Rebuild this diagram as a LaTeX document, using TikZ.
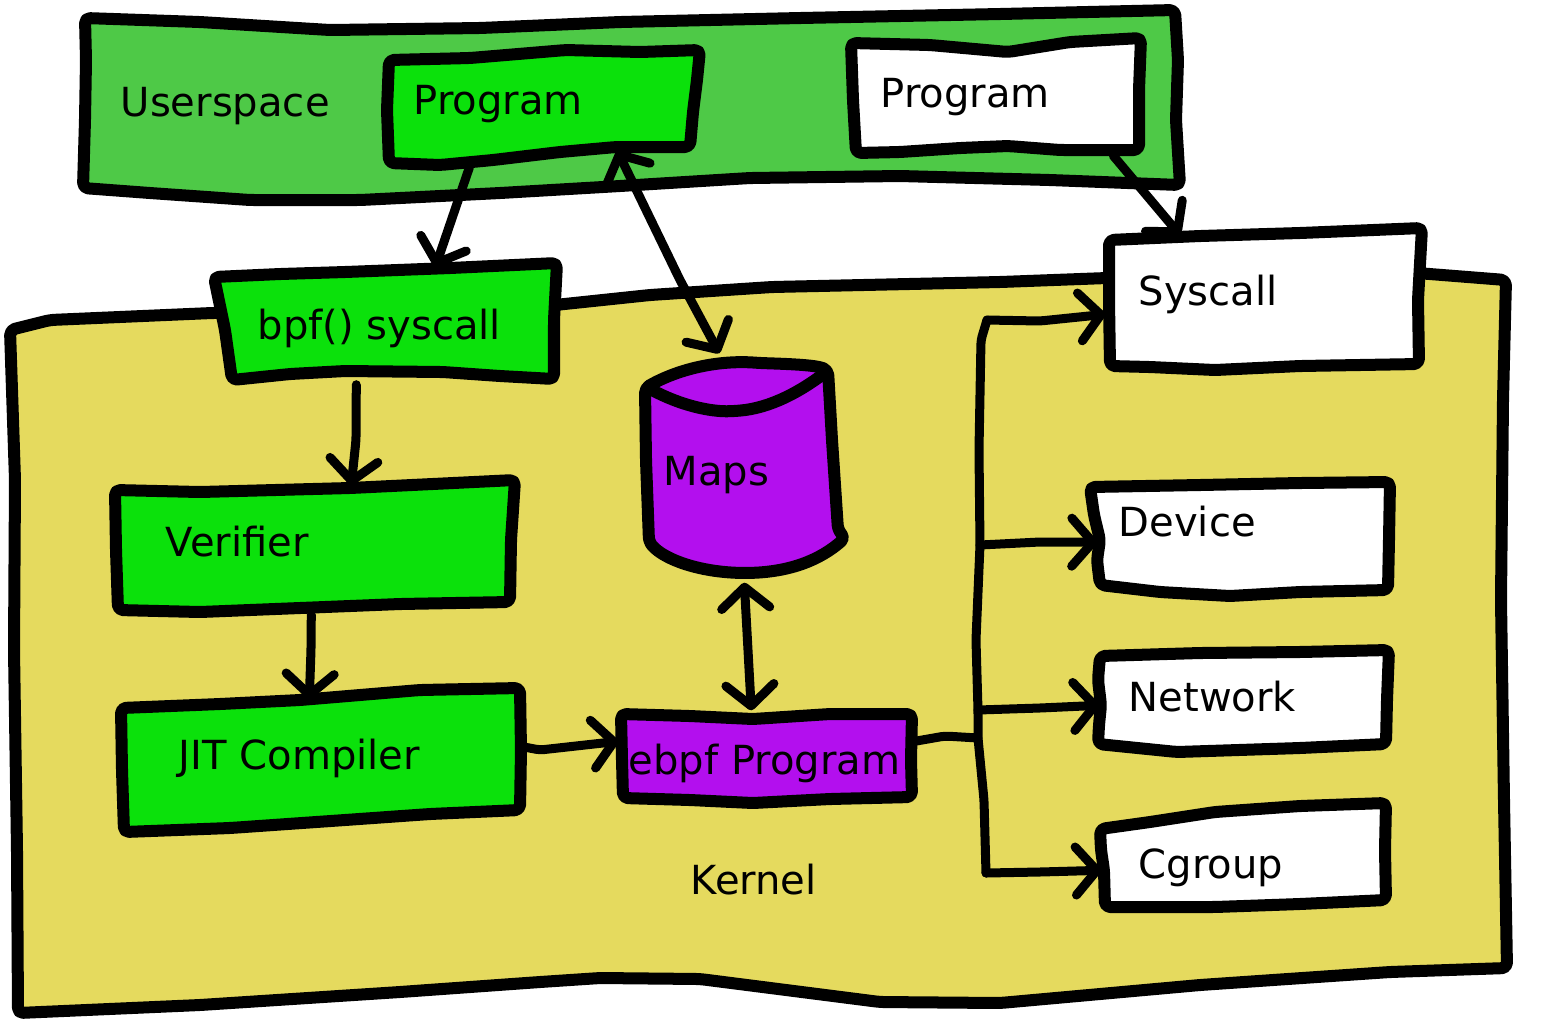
\documentclass[tikz,border=0pt]{standalone}
\usepackage{fontspec}
\setmainfont{DejaVu Sans}
\usetikzlibrary{arrows.meta,fit}
\definecolor{usergreen}{HTML}{4EC947}
\definecolor{boxgreen}{HTML}{0BE10B}
\definecolor{kernyellow}{HTML}{E5DA5E}
\definecolor{mapspurple}{HTML}{B30FEE}
\begin{document}
\begin{tikzpicture}[x=0.01cm,y=-0.01cm,
  outl/.style={line width=0.12cm, line join=round, line cap=round, rounded corners=0.05cm},
  conn/.style={line width=0.09cm, line cap=round, line join=round, rounded corners=0.04cm},
  lbl/.style={anchor=base west, inner sep=0pt, font=\fontsize{11.4pt}{13pt}\selectfont},
  bbox/.style={inner sep=0pt, draw=none},
  >={Straight Barb[length=0.21cm,width=0.48cm,round]}]
\useasboundingbox (0,0) rectangle (1544,1023);

% ---------- Userspace region ----------
\draw[outl, fill=usergreen] (85,18) -- (200,22) -- (330,30) -- (480,28) -- (620,22) -- (800,18)
  -- (1000,14) -- (1175,10) -- (1178,60) -- (1176,120) -- (1180,185) -- (1050,180) -- (900,176)
  -- (750,178) -- (620,186) -- (500,193) -- (360,200) -- (250,200) -- (150,193) -- (83,188)
  -- (85,120) -- (86,60) -- cycle;

% ---------- Kernel region ----------
\draw[outl, fill=kernyellow] (10,330) -- (50,320) -- (212,313) -- (400,310) -- (555,305)
  -- (650,295) -- (772,287) -- (1000,282) -- (1107,278) -- (1300,275) -- (1417,273) -- (1506,280)
  -- (1503,400) -- (1501,600) -- (1504,800) -- (1507,968) -- (1390,972) -- (1200,985)
  -- (1000,1003) -- (880,1002) -- (700,979) -- (600,978) -- (540,982) -- (400,992)
  -- (200,1005) -- (18,1013) -- (17,850) -- (14,650) -- (15,480) -- cycle;

% ---------- Boxes ----------
% Program (green)
\draw[outl, fill=boxgreen] (389,60) -- (470,58) -- (566,50) -- (640,52) -- (700,50) -- (697,80)
  -- (693,112) -- (690,147) -- (616,147) -- (560,152) -- (493,160) -- (440,165) -- (389,163)
  -- (387,110) -- cycle;
\node[bbox, fit={(385,50) (700,165)}] (prog) {};
\node[lbl] (tprog) at (413,114) {Program};

% Program (white)
\draw[outl, fill=white] (851,43) -- (930,45) -- (1008,52) -- (1070,42) -- (1141,38) -- (1139,90)
  -- (1139,150) -- (1060,150) -- (1008,146) -- (960,148) -- (900,152) -- (856,153) -- (853,100) -- cycle;
\node[bbox, fit={(851,35) (1141,155)}] (wprog) {};
\node[lbl] (twprog) at (880,107) {Program};

% Syscall
\draw[outl, fill=white] (1109,240) -- (1200,236) -- (1300,233) -- (1422,228) -- (1418,300)
  -- (1419,364) -- (1300,366) -- (1215,370) -- (1150,367) -- (1110,366) -- (1109,300) -- cycle;
\node[bbox, fit={(1109,227) (1422,370)}] (sysc) {};
\node[lbl] (tsysc) at (1138,305) {Syscall};

% bpf() syscall
\draw[outl, fill=boxgreen] (214,277) -- (280,274) -- (345,272) -- (450,268) -- (557,263)
  -- (554,320) -- (554,379) -- (500,376) -- (443,372) -- (345,371) -- (290,374) -- (232,380)
  -- (225,330) -- cycle;
\node[bbox, fit={(214,263) (557,382)}] (bpf) {};
\node[lbl] (tbpf) at (257,339) {bpf() syscall};

% Verifier
\draw[outl, fill=boxgreen] (115,490) -- (200,492) -- (350,488) -- (515,480) -- (511,540)
  -- (510,602) -- (400,604) -- (300,608) -- (200,612) -- (118,610) -- (116,550) -- cycle;
\node[bbox, fit={(115,480) (515,612)}] (ver) {};
\node[lbl] (tver) at (165,556) {Verifier};

% JIT Compiler
\draw[outl, fill=boxgreen] (121,708) -- (220,704) -- (300,700) -- (420,690) -- (520,688)
  -- (521,750) -- (520,810) -- (430,814) -- (345,820) -- (230,828) -- (124,832) -- (122,770) -- cycle;
\node[bbox, fit={(121,688) (522,833)}] (jit) {};
\node[lbl] (tjit) at (178,769) {JIT Compiler};

% ebpf Program
\draw[outl, fill=mapspurple] (621,714) -- (690,716) -- (753,719) -- (830,714) -- (912,714)
  -- (911,760) -- (912,797) -- (830,799) -- (753,803) -- (690,800) -- (623,798) -- (622,760) -- cycle;
\node[bbox, fit={(621,712) (914,803)}] (ebpf) {};
\node[lbl] (tebpf) at (628,774) {ebpf Program};

% Maps (cylinder)
\draw[outl, fill=mapspurple] (645,388) .. controls (680,368) and (720,360) .. (760,363)
  .. controls (790,364) and (815,365) .. (828,370)
  -- (832,440) -- (838,530) -- (845,538)
  .. controls (820,560) and (790,572) .. (745,573)
  .. controls (700,572) and (665,560) .. (649,542)
  -- (646,460) -- cycle;
\draw[outl] (652,390) .. controls (680,405) and (710,412) .. (735,411)
  .. controls (770,408) and (800,392) .. (826,372);
\node[bbox, fit={(643,362) (847,575)}] (maps) {};
\node[lbl] (tmaps) at (663,485) {Maps};

% Device
\draw[outl, fill=white] (1090,487) -- (1200,485) -- (1300,483) -- (1390,482) -- (1389,540)
  -- (1388,590) -- (1300,592) -- (1230,596) -- (1160,592) -- (1100,585) -- (1097,560)
  -- (1100,540) -- (1094,515) -- cycle;
\node[bbox, fit={(1090,482) (1390,596)}] (dev) {};
\node[lbl] (tdev) at (1118,536) {Device};

% Network
\draw[outl, fill=white] (1100,656) -- (1200,653) -- (1300,652) -- (1389,650) -- (1387,700)
  -- (1386,744) -- (1300,748) -- (1177,752) -- (1098,744) -- (1099,725) -- (1101,705) -- (1098,680) -- cycle;
\node[bbox, fit={(1098,650) (1389,753)}] (net) {};
\node[lbl] (tnet) at (1128,711) {Network};

% Cgroup
\draw[outl, fill=white] (1100,829) -- (1150,822) -- (1215,812) -- (1300,806) -- (1386,803)
  -- (1385,850) -- (1386,900) -- (1300,904) -- (1215,907) -- (1105,907) -- (1104,870) -- (1101,850) -- cycle;
\node[bbox, fit={(1098,803) (1386,908)}] (cg) {};
\node[lbl] (tcg) at (1138,878) {Cgroup};

% ---------- Labels ----------
\node[lbl] (tuser) at (120,116) {Userspace};
\node[lbl] (tkern) at (690,894) {Kernel};

% ---------- Connectors ----------
\draw[conn,->] ([shift={(85,2)}]prog.south west) -- ([shift={(222,5)}]bpf.north west);
\draw[conn,<->] ([shift={(233,-15)}]prog.south west) -- (680,280) -- ([shift={(77,-8)}]maps.north west);
\draw[conn,->] ([shift={(263,0)}]wprog.south west) -- ([shift={(72,9)}]sysc.north west);
\draw[conn,->] ([shift={(143,2)}]bpf.south west) -- (356,440) -- ([shift={(237,6)}]ver.north west);
\draw[conn,->] ([shift={(197,2)}]ver.south west) -- (311,650) -- ([shift={(189,12)}]jit.north west);
\draw[conn,->] ([shift={(3,60)}]jit.north east) -- (540,750) -- ([shift={(-2,30)}]ebpf.north west);
\draw[conn,<->] ([shift={(102,7)}]maps.south west) -- (748,650) -- ([shift={(131,-1)}]ebpf.north west);

% trunk
\coordinate (ttop) at (987,320);
\coordinate (tjoin) at (978,738);
\coordinate (tbot) at (986,873);
\draw[conn] ([shift={(0,30)}]ebpf.north east) -- (945,736) -- (tjoin);
\draw[conn] (ttop) -- (981,340) -- (979,450) -- (980,545) -- (976,640) -- (978,710) -- (tjoin)
  -- (984,800) -- (tbot);
\draw[conn,->] (ttop) -- (1040,321) -- ([shift={(-3,88)}]sysc.north west);
\draw[conn,->] (980,545) -- (1040,542) -- ([shift={(8,61)}]dev.north west);
\draw[conn,->] (978,710) -- (1040,708) -- ([shift={(2,56)}]net.north west);
\draw[conn,->] (tbot) -- (1040,872) -- ([shift={(4,68)}]cg.north west);
\end{tikzpicture}
\end{document}
